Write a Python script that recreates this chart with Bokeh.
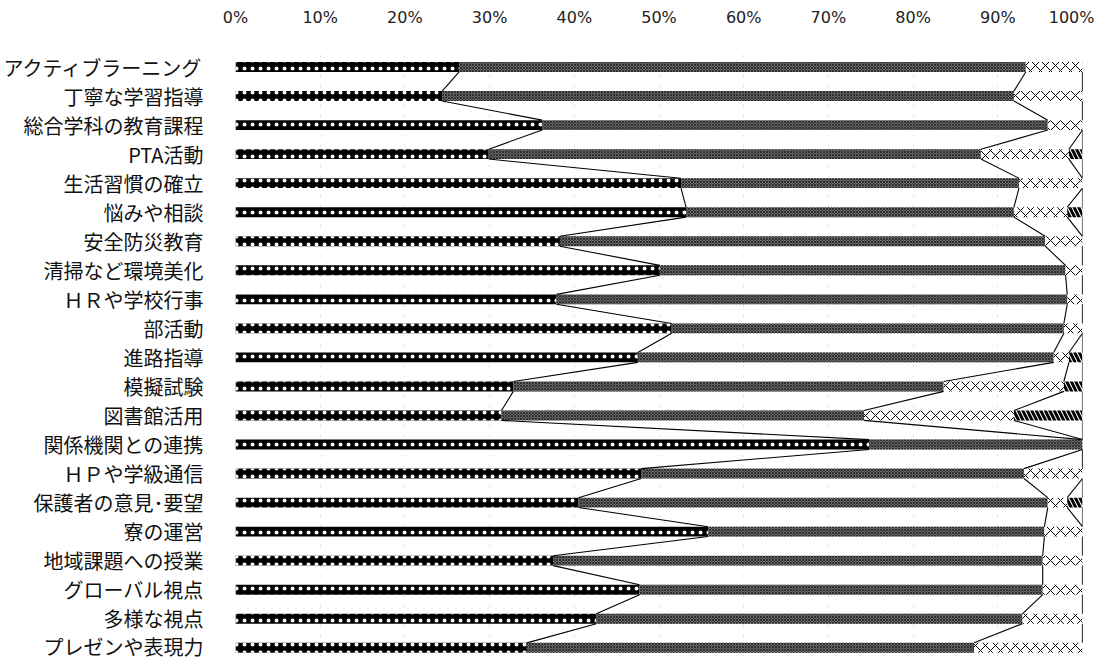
from bokeh.plotting import figure
from bokeh.models import FixedTicker, ColumnDataSource
from bokeh.embed import file_html
from bokeh.resources import INLINE

categories = ["アクティブラーニング", "丁寧な学習指導", "総合学科の教育課程", "PTA活動",
              "生活習慣の確立", "悩みや相談", "安全防災教育", "清掃など環境美化",
              "ＨＲや学校行事", "部活動", "進路指導", "模擬試験", "図書館活用",
              "関係機関との連携", "ＨＰや学級通信", "保護者の意見･要望", "寮の運営",
              "地域課題への授業", "グローバル視点", "多様な視点", "プレゼンや表現力"]

s1 = [26.4, 24.4, 36.2, 29.9, 52.6, 53.2, 38.3, 50.1, 37.9, 51.5, 47.5,
      32.8, 31.4, 74.8, 47.9, 40.5, 55.8, 37.5, 47.7, 42.6, 34.4]
s2 = [66.9, 67.5, 59.7, 58.1, 39.9, 38.7, 57.3, 47.9, 60.3, 46.3, 49.1,
      50.8, 42.8, 25.2, 45.2, 55.4, 39.7, 57.8, 47.6, 50.3, 52.8]
s3 = [6.7, 8.1, 4.1, 10.4, 7.5, 6.3, 4.4, 2.0, 1.8, 2.2, 1.8,
      14.2, 17.7, 0.0, 6.9, 2.3, 4.5, 4.7, 4.7, 7.1, 12.8]
s4 = [0.0, 0.0, 0.0, 1.6, 0.0, 1.8, 0.0, 0.0, 0.0, 0.0, 1.6,
      2.2, 8.1, 0.0, 0.0, 1.8, 0.0, 0.0, 0.0, 0.0, 0.0]

x_ticks = [0, 10, 20, 30, 40, 50, 60, 70, 80, 90, 100]

n = len(categories)
ys = [n - 1 - i for i in range(n)]
BAR_H = 0.34

series = [s1, s2, s3, s4]
cums = []
acc = [0.0] * n
for s in series:
    left = acc[:]
    acc = [a + v for a, v in zip(acc, s)]
    cums.append((left, acc[:]))

styles = [
    dict(fill_color="black", hatch_pattern="dot", hatch_color="white", hatch_scale=8, hatch_weight=1.0),
    dict(fill_color="#6a6a6a", hatch_pattern="diagonal_cross", hatch_color="black", hatch_scale=3, hatch_weight=0.8, hatch_alpha=0.7),
    dict(fill_color="white", hatch_pattern="diagonal_cross", hatch_color="black", hatch_scale=10, hatch_weight=1),
    dict(fill_color="white", hatch_pattern="left_diagonal_line", hatch_color="black", hatch_scale=9, hatch_weight=3),
]

p = figure(width=1094, height=660, x_range=(0, 100), y_range=(-0.3, n - 0.5),
           x_axis_location="above", output_backend="svg", toolbar_location=None,
           min_border_left=233, min_border_right=12, min_border_top=52, min_border_bottom=4)
p.outline_line_color = None
p.background_fill_color = "white"

p.xgrid.ticker = FixedTicker(ticks=x_ticks)
p.xgrid.grid_line_color = "#888888"
p.xgrid.grid_line_dash = "1 9"
p.xgrid.grid_line_alpha = 0.6
p.ygrid.grid_line_color = None

for (left, right), st in zip(cums, styles):
    src = ColumnDataSource(dict(y=ys, left=left, right=right))
    p.hbar(y="y", left="left", right="right", height=BAR_H, source=src,
           line_color=None, **st)

# Excel-style series lines between consecutive bars
x0s, y0s, x1s, y1s = [], [], [], []
for (_, right) in cums:
    for i in range(n - 1):
        x0s.append(right[i]); y0s.append(ys[i] - BAR_H / 2)
        x1s.append(right[i + 1]); y1s.append(ys[i + 1] + BAR_H / 2)
p.segment(x0=x0s, y0=y0s, x1=x1s, y1=y1s, line_color="black", line_width=1.1)

xa = p.xaxis[0]
xa.ticker = FixedTicker(ticks=x_ticks)
xa.major_label_overrides = {t: f"{t}%" for t in x_ticks}
xa.axis_line_color = None
xa.major_tick_line_color = None
xa.minor_tick_line_color = None
xa.major_label_standoff = 20
xa.major_label_text_font = "DejaVu Sans"
xa.major_label_text_font_size = "16px"
xa.major_label_text_color = "#222222"

ya = p.yaxis[0]
ya.ticker = FixedTicker(ticks=ys)
ya.major_label_overrides = {y: c for y, c in zip(ys, categories)}
ya.axis_line_color = None
ya.major_tick_line_color = None
ya.minor_tick_line_color = None
ya.major_label_standoff = 26
ya.major_label_text_font = "Noto Sans CJK JP"
ya.major_label_text_font_size = "20px"
ya.major_label_text_color = "#111111"

open("out.html", "w").write(file_html(p, INLINE))
